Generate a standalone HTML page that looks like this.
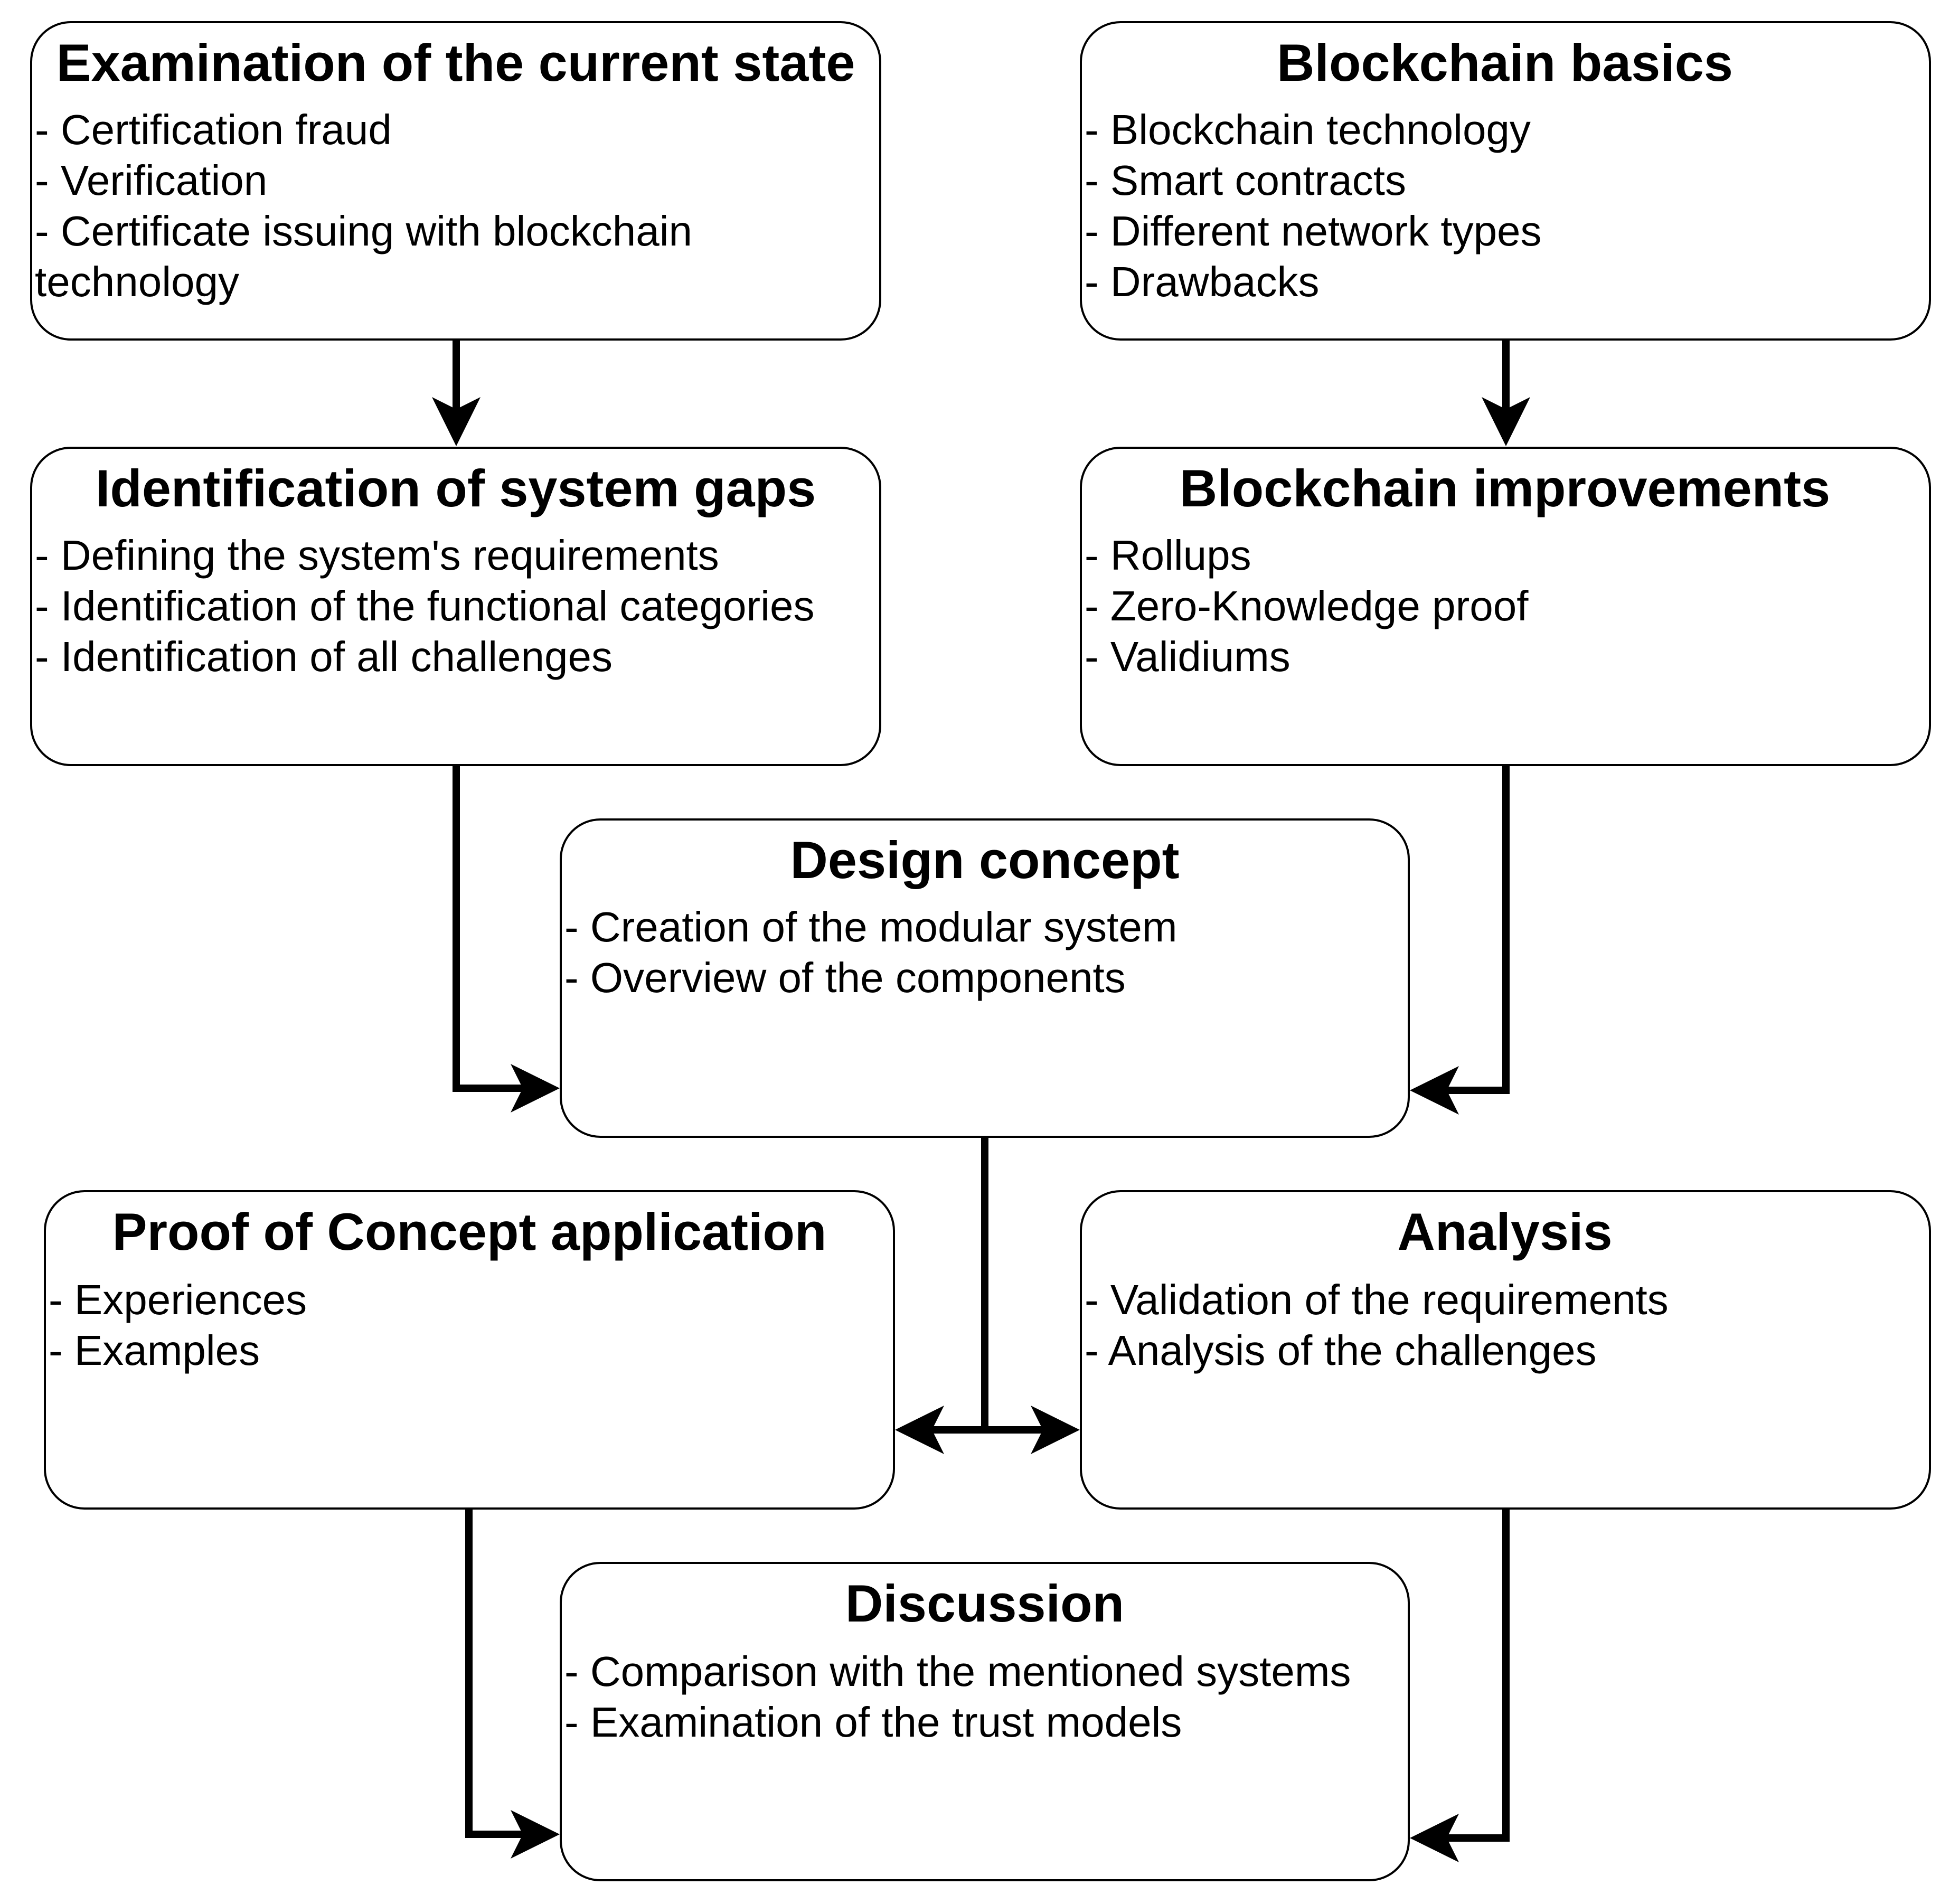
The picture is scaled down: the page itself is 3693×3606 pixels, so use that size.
<!DOCTYPE html>
<html><head><meta charset="utf-8"><style>html,body{margin:0;padding:0;background:#fff}svg{display:block}</style></head>
<body>
<svg width="3693" height="3606" viewBox="0 0 3693 3606" xmlns="http://www.w3.org/2000/svg">
<rect width="3693" height="3606" fill="#fff"/>
<g fill="#fff" stroke="#000" stroke-width="4">
<rect x="59" y="42" width="1608" height="601" rx="75"/>
<rect x="2047" y="42" width="1608" height="601" rx="75"/>
<rect x="59" y="848" width="1608" height="601" rx="75"/>
<rect x="2047" y="848" width="1608" height="601" rx="75"/>
<rect x="1062" y="1552" width="1606" height="601" rx="75"/>
<rect x="85" y="2256" width="1608" height="601" rx="75"/>
<rect x="2047" y="2256" width="1608" height="601" rx="75"/>
<rect x="1062" y="2960" width="1606" height="601" rx="75"/>
</g>
<g fill="none" stroke="#000" stroke-width="14">
<path d="M864 645 V800"/>
<path d="M2852 645 V800"/>
<path d="M864 1451 V2061 H990"/>
<path d="M2852 1451 V2065 H2740"/>
<path d="M1865 2155 V2708"/>
<path d="M1765 2708 H1975"/>
<path d="M888 2859 V3474 H990"/>
<path d="M2852 2859 V3481 H2740"/>
</g>
<g fill="#000">
<polygon points="864,845 818,752 864,775 910,752"/>
<polygon points="2852,845 2806,752 2852,775 2898,752"/>
<polygon points="1060,2061 967,2015 990,2061 967,2107"/>
<polygon points="2670,2065 2763,2019 2740,2065 2763,2111"/>
<polygon points="1695,2708 1788,2662 1765,2708 1788,2754"/>
<polygon points="2045,2708 1952,2662 1975,2708 1952,2754"/>
<polygon points="1060,3474 967,3428 990,3474 967,3520"/>
<polygon points="2670,3481 2763,3435 2740,3481 2763,3527"/>
</g>
<g font-family="Liberation Sans, sans-serif" font-weight="bold" font-size="99" text-anchor="middle" fill="#000">
<text x="863" y="153">Examination of the current state</text>
<text x="2850" y="153">Blockchain basics</text>
<text x="863" y="959">Identification of system gaps</text>
<text x="2850" y="959">Blockchain improvements</text>
<text x="1865" y="1663">Design concept</text>
<text x="889" y="2367">Proof of Concept application</text>
<text x="2850" y="2367">Analysis</text>
<text x="1865" y="3071">Discussion</text>
</g>
<g font-family="Liberation Sans, sans-serif" font-size="80" fill="#000">
<text x="66" y="273">- Certification fraud</text>
<text x="66" y="369">- Verification</text>
<text x="66" y="465">- Certificate issuing with blockchain</text>
<text x="66" y="561">technology</text>
<text x="2054" y="273">- Blockchain technology</text>
<text x="2054" y="369">- Smart contracts</text>
<text x="2054" y="465">- Different network types</text>
<text x="2054" y="561">- Drawbacks</text>
<text x="66" y="1079">- Defining the system's requirements</text>
<text x="66" y="1175">- Identification of the functional categories</text>
<text x="66" y="1271">- Identification of all challenges</text>
<text x="2054" y="1079">- Rollups</text>
<text x="2054" y="1175">- Zero-Knowledge proof</text>
<text x="2054" y="1271">- Validiums</text>
<text x="1069" y="1783">- Creation of the modular system</text>
<text x="1069" y="1879">- Overview of the components</text>
<text x="92" y="2489">- Experiences</text>
<text x="92" y="2585">- Examples</text>
<text x="2054" y="2489">- Validation of the requirements</text>
<text x="2054" y="2585">- Analysis of the challenges</text>
<text x="1069" y="3193">- Comparison with the mentioned systems</text>
<text x="1069" y="3289">- Examination of the trust models</text>
</g>
</svg>
</body></html>
